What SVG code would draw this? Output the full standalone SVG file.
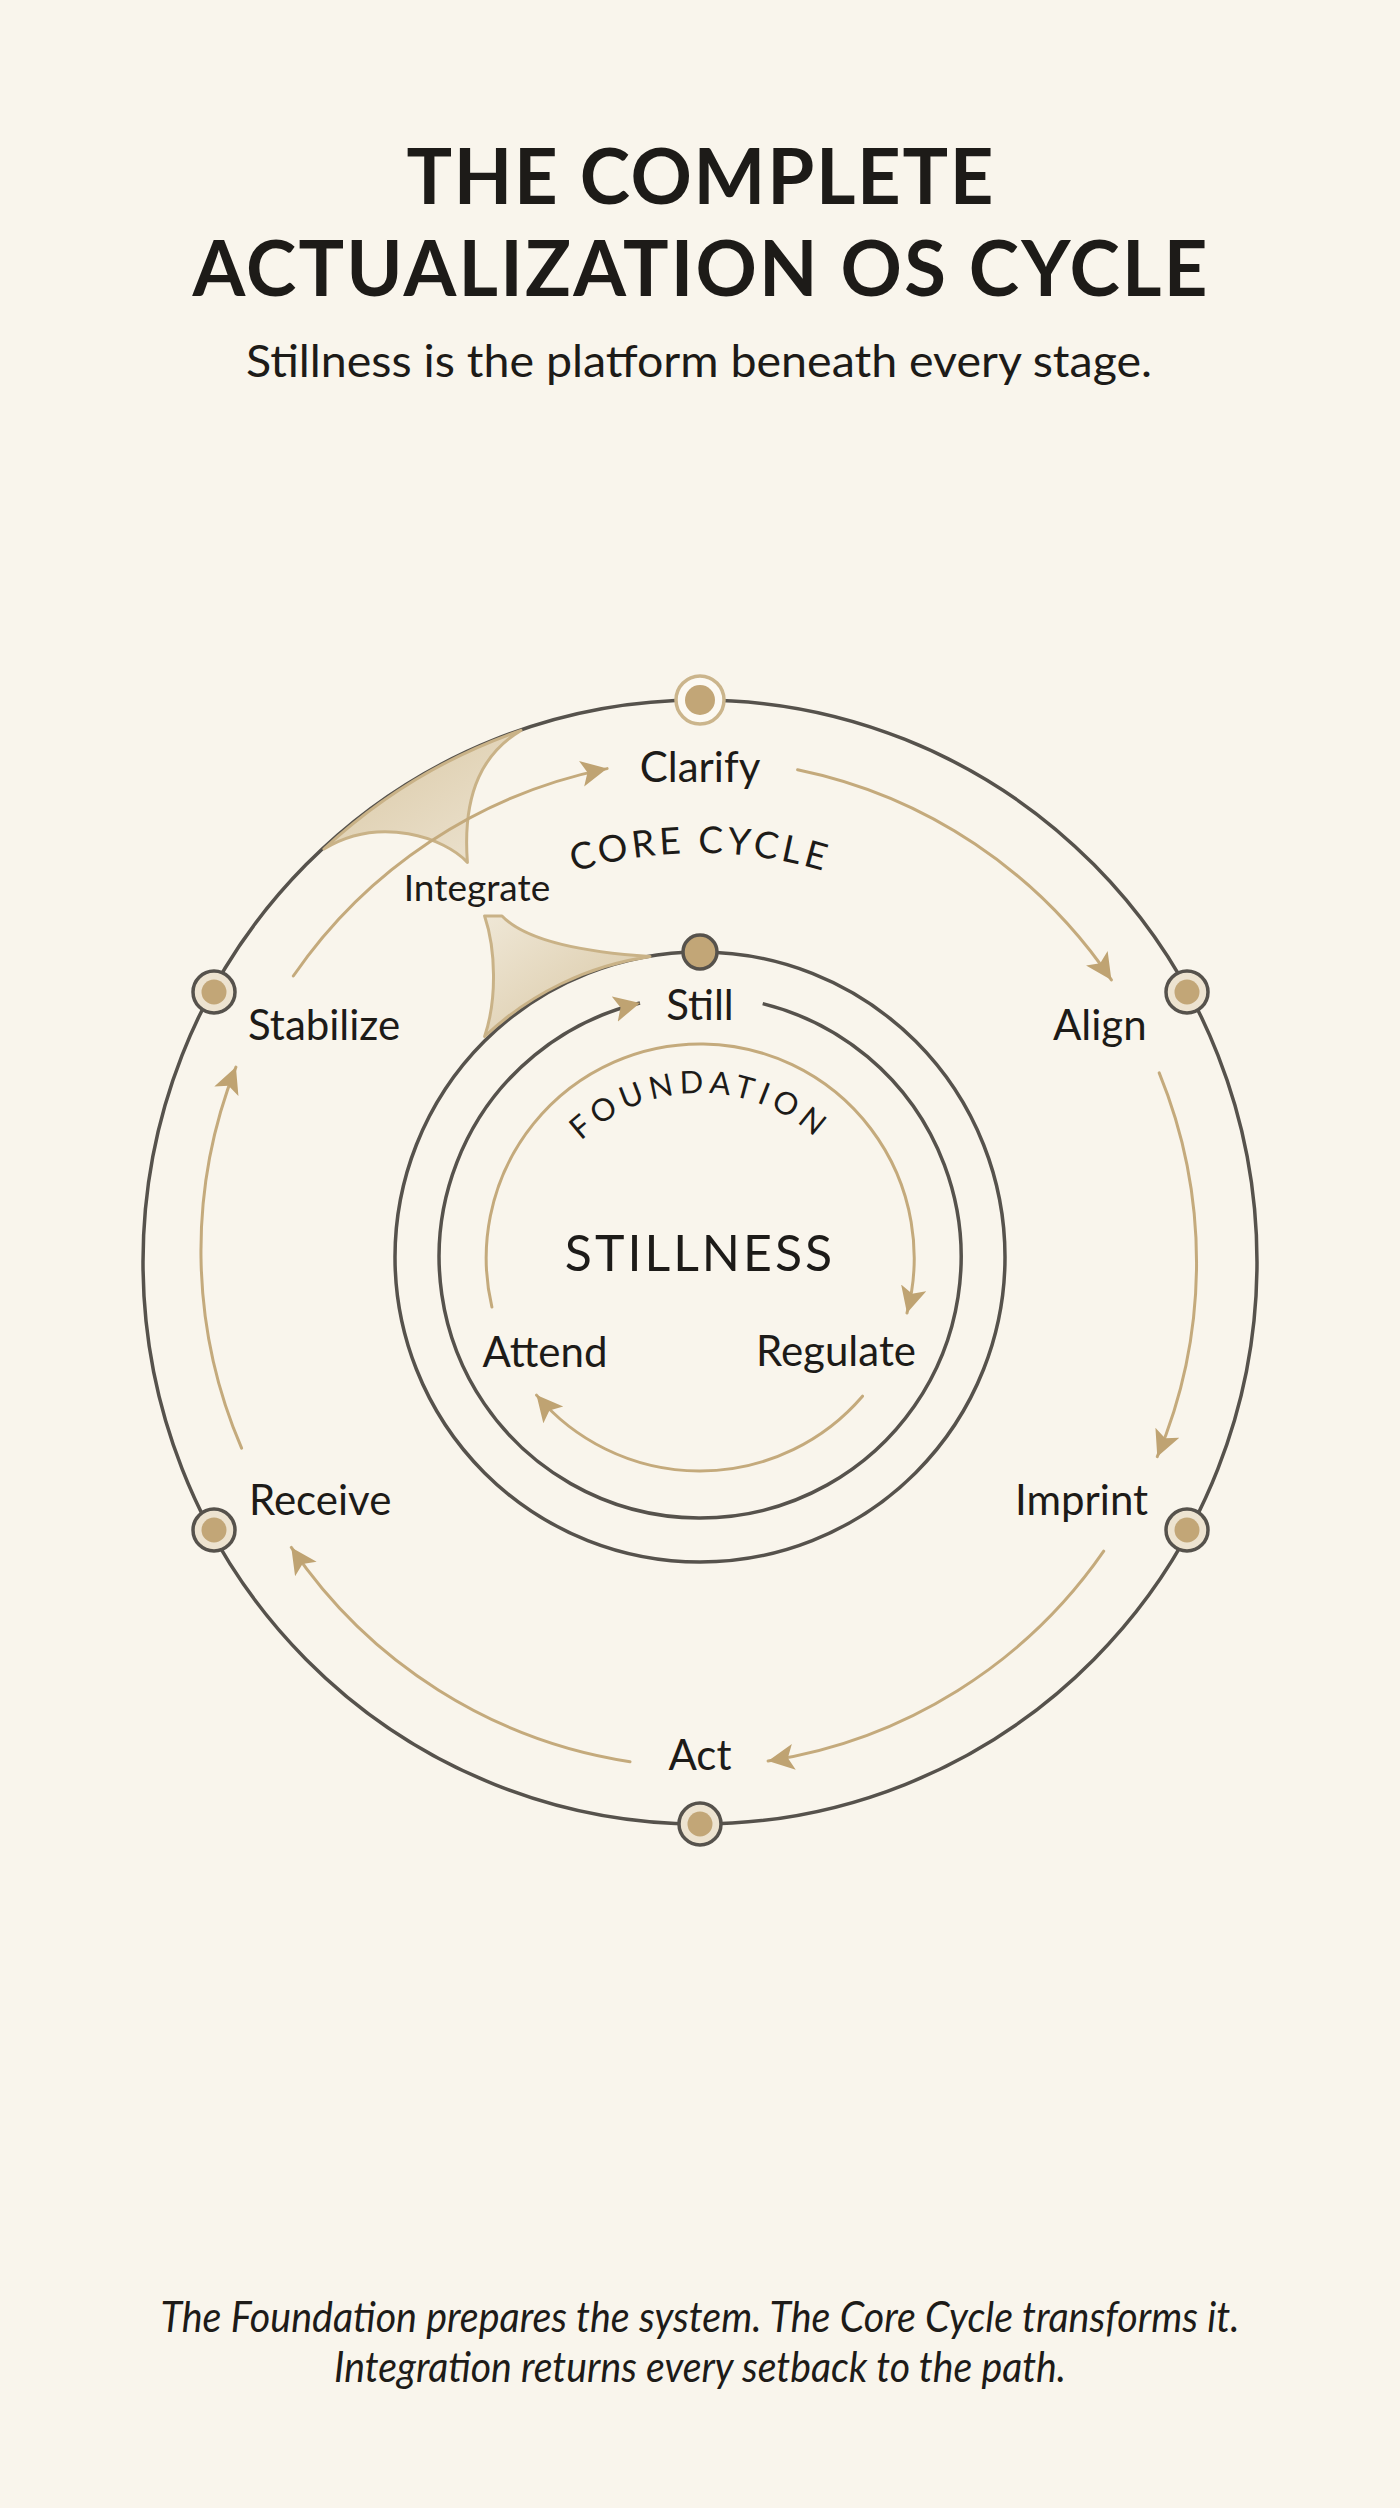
<svg xmlns="http://www.w3.org/2000/svg" width="1400" height="2508" viewBox="0 0 1400 2508">
<defs>
<style>
.t{font-family:Lato,"Noto Sans","Liberation Sans",sans-serif;fill:#1d1b18}
.lbl{font-size:42px}
.ring{fill:none;stroke:#56524c;stroke-width:3.5}
.flow{fill:none;stroke:#c4aa7c;stroke-width:3;stroke-linecap:round}
.dark{fill:none;stroke:#56524c;stroke-width:3.5}
.nring{fill:#ede3d0;stroke:#56524c;stroke-width:3.5}
.dot{fill:#c2a677}
.fan{stroke:#c9b287;stroke-width:3;stroke-linejoin:round}
</style>
<linearGradient id="g1" x1="0" y1="0" x2="1" y2="1">
<stop offset="0" stop-color="#d9c7a3"/>
<stop offset="1" stop-color="#ede4d2"/>
</linearGradient>
<linearGradient id="g2" x1="0" y1="0" x2="1" y2="1">
<stop offset="0" stop-color="#efe7d6"/>
<stop offset="1" stop-color="#d7c5a1"/>
</linearGradient>
<marker id="ah" markerUnits="userSpaceOnUse" markerWidth="28" markerHeight="28" viewBox="0 0 28 28" refX="26" refY="13" orient="auto">
<path d="M0,0 L26,13 L0,26 L6,13 Z" fill="#bfa372"/>
</marker>
<path id="arcCore" d="M300,1125.2 A430 430 0 0 1 1100,1125.2"/>
<path id="arcFound" d="M530,1238.9 A172 172 0 0 1 870,1238.9"/>
</defs>
<rect width="1400" height="2508" fill="#f9f5ec"/>

<g id="title">
<text class="t" x="700" y="204" text-anchor="middle" font-size="76" font-weight="700" textLength="587" lengthAdjust="spacing">THE COMPLETE</text>
<text class="t" x="700" y="296" text-anchor="middle" font-size="76" font-weight="700" textLength="1015" lengthAdjust="spacing">ACTUALIZATION OS CYCLE</text>
<text class="t" x="699" y="377" text-anchor="middle" font-size="44" textLength="906" lengthAdjust="spacingAndGlyphs">Stillness is the platform beneath every stage.</text>
</g>

<g id="rings">
<ellipse class="ring" cx="700" cy="1262" rx="557" ry="562"/>
<circle class="ring" cx="700" cy="1257" r="305"/>
</g>

<g id="integration-funnels">
<path class="fan" fill="url(#g1)" d="M521,730.4 C485,752 462,790 467.4,862.4 C445,838 380,815 323.9,849 A557 562 0 0 1 521,730.4 Z"/>
<path class="fan" fill="url(#g2)" d="M484.6,916 L502,916 C525,940 580,952 650,956.5 A305 305 0 0 0 484.6,1036.5 C497,1000 496,950 484.6,916 Z"/>
</g>

<g id="connectors">
<path class="flow" marker-end="url(#ah)" d="M797.6,769.8 A500 500 0 0 1 1111.4,979.9"/>
<path class="flow" marker-end="url(#ah)" d="M1159.2,1072.9 A500 500 0 0 1 1157.3,1456.7"/>
<path class="flow" marker-end="url(#ah)" d="M1103.7,1551.2 A500 500 0 0 1 768.1,1760.9"/>
<path class="flow" marker-end="url(#ah)" d="M630,1761.7 A500 500 0 0 1 291.3,1547.4"/>
<path class="flow" marker-end="url(#ah)" d="M241.6,1448.2 A500 500 0 0 1 235.9,1067.1"/>
<path class="flow" marker-end="url(#ah)" d="M293.3,976 A500 500 0 0 1 607.1,768.6"/>
<path class="dark" marker-end="url(#ah)" d="M762.7,1003.6 A261 261 0 1 1 640,1003"/>
<path class="flow" marker-end="url(#ah)" d="M491.9,1307 A214 214 0 1 1 907,1313"/>
<path class="flow" marker-end="url(#ah)" d="M862.5,1396.2 A214 214 0 0 1 536.5,1395.1"/>
</g>

<g id="node-clarify">
<circle cx="700" cy="700" r="24" fill="#fcf9f2" stroke="#cbb58c" stroke-width="3.5"/>
<circle class="dot" cx="700" cy="700" r="15"/>
<text class="t lbl" x="700" y="782" text-anchor="middle">Clarify</text>
</g>
<g id="node-align">
<circle class="nring" cx="1187" cy="992" r="21"/>
<circle class="dot" cx="1187" cy="992" r="12.5"/>
<text class="t lbl" x="1053" y="1040">Align</text>
</g>
<g id="node-imprint">
<circle class="nring" cx="1187" cy="1530" r="21"/>
<circle class="dot" cx="1187" cy="1530" r="12.5"/>
<text class="t lbl" x="1015" y="1515">Imprint</text>
</g>
<g id="node-act">
<circle class="nring" cx="700" cy="1824" r="21"/>
<circle class="dot" cx="700" cy="1824" r="12.5"/>
<text class="t lbl" x="700" y="1770" text-anchor="middle">Act</text>
</g>
<g id="node-receive">
<circle class="nring" cx="214" cy="1530" r="21"/>
<circle class="dot" cx="214" cy="1530" r="12.5"/>
<text class="t lbl" x="249" y="1515">Receive</text>
</g>
<g id="node-stabilize">
<circle class="nring" cx="214" cy="992" r="21"/>
<circle class="dot" cx="214" cy="992" r="12.5"/>
<text class="t lbl" x="248" y="1040">Stabilize</text>
</g>
<g id="node-integrate">
<text class="t" x="477" y="901" text-anchor="middle" font-size="37">Integrate</text>
</g>
<g id="label-core-cycle">
<text class="t" font-size="37" letter-spacing="3.7"><textPath href="#arcCore" startOffset="50%" text-anchor="middle">CORE CYCLE</textPath></text>
</g>
<g id="node-still">
<circle cx="700" cy="952" r="17" fill="#c2a677" stroke="#56524c" stroke-width="3.5"/>
<text class="t lbl" x="700" y="1020" text-anchor="middle">Still</text>
</g>
<g id="label-foundation">
<text class="t" font-size="31" letter-spacing="5.7"><textPath href="#arcFound" startOffset="50%" text-anchor="middle">FOUNDATION</textPath></text>
</g>
<g id="node-stillness">
<text class="t" x="700" y="1271" text-anchor="middle" font-size="50" letter-spacing="3">STILLNESS</text>
</g>
<g id="node-attend">
<text class="t lbl" x="545" y="1367" text-anchor="middle">Attend</text>
</g>
<g id="node-regulate">
<text class="t lbl" x="836" y="1366" text-anchor="middle">Regulate</text>
</g>

<g id="footer">
<text class="t" x="700" y="2332" text-anchor="middle" font-size="42" font-style="italic" textLength="1079" lengthAdjust="spacingAndGlyphs">The Foundation prepares the system. The Core Cycle transforms it.</text>
<text class="t" x="700" y="2382" text-anchor="middle" font-size="42" font-style="italic" textLength="732" lengthAdjust="spacingAndGlyphs">Integration returns every setback to the path.</text>
</g>
</svg>
